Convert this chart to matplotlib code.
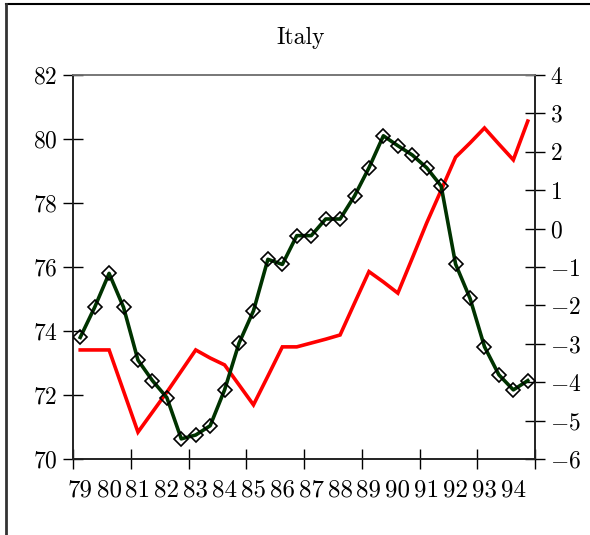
import numpy as np
import matplotlib
matplotlib.use('Agg')
import matplotlib.pyplot as plt
from matplotlib.lines import Line2D

plt.rcParams['font.family'] = 'serif'
plt.rcParams['font.serif'] = ['cmr10']
plt.rcParams['mathtext.fontset'] = 'cm'
plt.rcParams['axes.formatter.use_mathtext'] = True

# semi-annual observations, 1979-1994
years = ['79', '80', '81', '82', '83', '84', '85', '86',
         '87', '88', '89', '90', '91', '92', '93', '94']

green = [73.80, 74.74, 75.80, 74.74, 73.09, 72.45, 71.92, 70.63,
         70.75, 71.04, 72.16, 73.62, 74.63, 76.24, 76.08, 76.98,
         76.98, 77.50, 77.50, 78.22, 79.10, 80.10, 79.79, 79.50,
         79.10, 78.53, 76.09, 75.02, 73.51, 72.63, 72.16, 72.45]

red = [-3.16, -3.16, -3.16, -4.23, -5.30, -4.78, -4.26, -3.71,
       -3.16, -3.37, -3.55, -4.07, -4.59, -3.84, -3.08, -3.08,
       -2.98, -2.88, -2.77, -1.94, -1.12, -1.39, -1.68, -0.77,
       0.15, 1.00, 1.86, 2.23, 2.62, 2.20, 1.79, 2.80]

x = np.arange(len(green))

fig = plt.figure(figsize=(5.9, 5.35), dpi=100)
ax = fig.add_axes([73/590, 76/535, 462/590, 384/535])
ax2 = ax.twinx()

ax2.plot(x, red, color='#ff0000', lw=2.6, solid_joinstyle='miter', zorder=2)
ax.plot(x, green, color='#003300', lw=2.6, marker='D', ms=7.5,
        mfc='none', mec='black', mew=1.2, zorder=3)

ax.set_zorder(ax2.get_zorder() + 1)
ax.patch.set_visible(False)

ax.set_xlim(-0.5, 31.5)
ax.set_ylim(70, 82)
ax2.set_ylim(-6, 4)
ax.set_yticks(np.arange(70, 83, 2))
ax2.set_yticks(np.arange(-6, 5, 1))

ax.set_xticks(np.arange(-0.5, 32, 4))
ax.set_xticklabels([])
ax.set_xticks(np.arange(0, 32, 2), minor=True)
ax.set_xticklabels(years, minor=True)
ax.tick_params(axis='x', which='minor', length=0, pad=15, labelsize=18)
ax.tick_params(axis='x', which='major', direction='inout', length=14, width=1)
ax.tick_params(axis='y', direction='inout', length=14, width=1, labelsize=17, pad=4)
ax2.tick_params(axis='y', direction='inout', length=14, width=1, labelsize=17, pad=4)

for a in (ax, ax2):
    for s in ['left', 'right', 'bottom']:
        a.spines[s].set_color('#222222')
        a.spines[s].set_linewidth(1.2)
    a.spines['top'].set_color('#777777')
    a.spines['top'].set_linewidth(1.2)

fig.text(301/590, 1 - 38/535, 'Italy', ha='center', va='center', fontsize=17)

# outer frame: top and left only
fig.add_artist(Line2D([6/590, 1], [1 - 4/535, 1 - 4/535], color='black', lw=1.5))
fig.add_artist(Line2D([6/590, 6/590], [0, 1 - 4/535], color='#333333', lw=2))

fig.savefig('out.png', dpi=100)
